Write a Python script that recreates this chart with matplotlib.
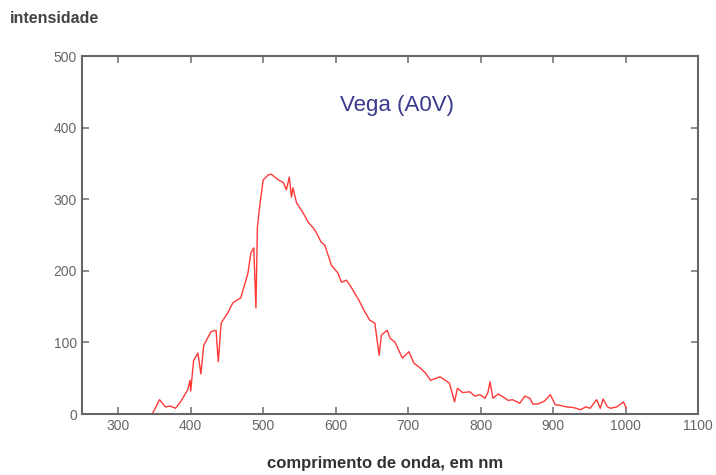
import matplotlib
matplotlib.use("Agg")
import matplotlib.pyplot as plt

plt.rcParams['font.family'] = ['Liberation Sans', 'DejaVu Sans']

# ===================== 光譜資料 (Vega) =====================
wavelength = [347, 357, 365, 372, 379, 386, 396, 399, 400, 404, 410, 414, 418, 428,
              435, 438, 442, 451, 458, 465, 469, 479, 483, 487, 490, 492, 495, 500,
              507, 511, 521, 528, 532, 536, 539, 541, 546, 555, 562, 569, 573, 580,
              585, 594, 603, 608, 615, 622, 632, 639, 647, 654, 660, 663, 671, 675,
              682, 692, 701, 708, 717, 724, 731, 744, 757, 764, 768, 775, 785, 792,
              799, 806, 810, 813, 817, 824, 831, 838, 844, 854, 861, 868, 872, 879,
              888, 896, 903, 910, 918, 928, 938, 945, 951, 960, 965, 969, 975,
              979, 988, 997, 1001]
intensity = [0, 20, 10, 11, 8, 17, 34, 47, 32, 75, 85, 56, 96, 115,
             117, 73, 127, 141, 155, 160, 162, 197, 225, 232, 148, 261, 289, 327,
             334, 335, 327, 323, 313, 331, 303, 316, 295, 281, 268, 260, 254, 240,
             236, 208, 197, 184, 187, 176, 159, 145, 131, 127, 82, 110, 117, 106,
             100, 78, 87, 71, 64, 57, 47, 52, 43, 17, 36, 30, 31, 25,
             27, 22, 30, 45, 22, 28, 24, 19, 20, 15, 25, 22, 14, 14,
             18, 27, 13, 12, 10, 9, 6, 10, 8, 20, 8, 21, 10,
             8, 10, 17, 8]

x_ticks = [300, 400, 500, 600, 700, 800, 900, 1000, 1100]
y_ticks = [0, 100, 200, 300, 400, 500]

fig = plt.figure(figsize=(7.16, 4.75), dpi=100)
ax = fig.add_axes([0.1145, 0.1284, 0.8605, 0.7536])

ax.plot(wavelength, intensity, color="#ff3838", linewidth=1.0)

ax.set_xlim(250, 1100)
ax.set_ylim(0, 500)
ax.set_xticks(x_ticks)
ax.set_yticks(y_ticks)

for s in ax.spines.values():
    s.set_color("#666666")
    s.set_linewidth(1.5)

ax.tick_params(direction="in", top=True, right=True, length=5, width=1.2,
               color="#777777", labelcolor="#666666", labelsize=10)

ax.text(685, 431, "Vega (A0V)", color="#3a3a8c", fontsize=16,
        ha="center", va="center")

fig.text(0.014, 0.962, "intensidade", fontsize=11.5, fontweight="bold",
         color="#444444", ha="left", va="center")
fig.text(0.538, 0.025, "comprimento de onda, em nm", fontsize=12,
         fontweight="bold", color="#333333", ha="center", va="center")

fig.savefig("out.png", dpi=100)
